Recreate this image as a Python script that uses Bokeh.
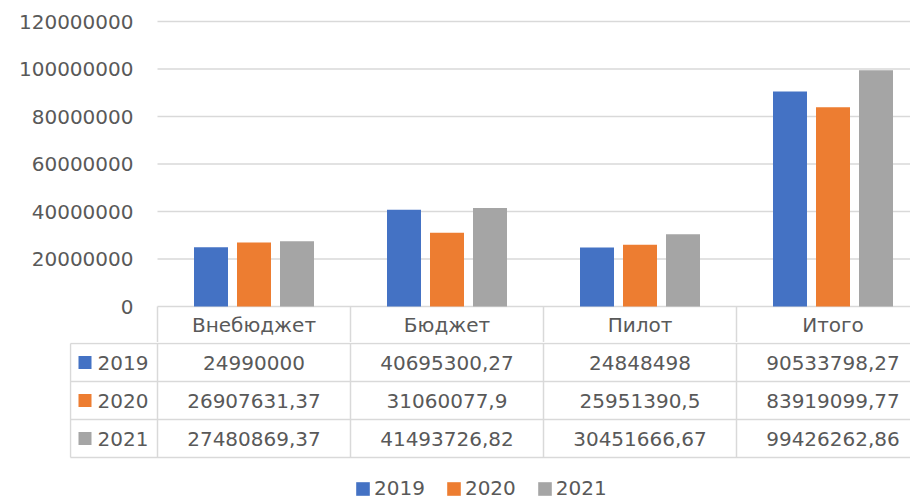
from bokeh.plotting import figure
from bokeh.models import (Range1d, FixedTicker, NumeralTickFormatter, ColumnDataSource,
                          Legend, LegendItem)
from bokeh.layouts import column
from bokeh.embed import file_html
from bokeh.resources import INLINE
from bokeh.transform import dodge
from bokeh.core.properties import value

# ---------------- data ----------------
categories = ["Внебюджет", "Бюджет", "Пилот", "Итого"]
years = ["2019", "2020", "2021"]
values_2019 = [24990000, 40695300.27, 24848498, 90533798.27]
values_2020 = [26907631.37, 31060077.9, 25951390.5, 83919099.77]
values_2021 = [27480869.37, 41493726.82, 30451666.67, 99426262.86]
y_ticks = [0, 20000000, 40000000, 60000000, 80000000, 100000000, 120000000]
colors = ["#4472C4", "#ED7D31", "#A5A5A5"]
series = [values_2019, values_2020, values_2021]

# ---------------- style / layout ----------------
FONT = "DejaVu Sans"
FS = "20px"
TXT = "#595959"
GRID = "#d9d9d9"
PAGE_W = 910
PAGE_H = 502
COL = 193.0                 # px per category column
UNIT = 20e6 / 47.5          # data units per px (vertical)
FRAME_LEFT = 69             # frame left edge in px (table key column border)
CAT_LEFT = 157              # px where first category column starts
TOP_BORDER = 19
ZERO_PX = 287               # frame top -> zero line
HEADER_PX = 36              # header row height
ROW_PX = 38
BAR_W = 34 / COL
OFFS = [-43 / COL, 0.0, 43 / COL]
LABEL_RIGHT = 133           # right edge of y tick labels


def fmt(v):
    s = f"{v:.2f}".rstrip("0").rstrip(".")
    return s.replace(".", ",")


x0 = -(CAT_LEFT - FRAME_LEFT) / COL
x1 = x0 + (PAGE_W - FRAME_LEFT) / COL
top_h = TOP_BORDER + ZERO_PX + HEADER_PX

# ---------------- top figure: chart + header row ----------------
p = figure(width=PAGE_W, height=top_h,
           x_range=Range1d(x0, x1),
           y_range=Range1d(-HEADER_PX * UNIT, ZERO_PX * UNIT),
           x_axis_type=None, output_backend="svg", toolbar_location=None,
           min_border_left=FRAME_LEFT, min_border_right=0,
           min_border_top=TOP_BORDER, min_border_bottom=0)
p.outline_line_color = None
p.xgrid.visible = False
p.ygrid.visible = False
p.yaxis.ticker = FixedTicker(ticks=y_ticks)
p.yaxis.formatter = NumeralTickFormatter(format="0")
p.yaxis.axis_line_color = None
p.yaxis.major_tick_line_color = None
p.yaxis.minor_tick_line_color = None
p.yaxis.major_tick_out = 0
p.yaxis.major_tick_in = 0
p.yaxis.major_label_standoff = FRAME_LEFT - LABEL_RIGHT
p.yaxis.major_label_text_font = FONT
p.yaxis.major_label_text_font_size = FS
p.yaxis.major_label_text_color = TXT

# horizontal grid lines over the category area only
p.segment(x0=[0] * len(y_ticks), x1=[x1] * len(y_ticks), y0=y_ticks, y1=y_ticks,
          line_color=GRID, line_width=1.5)

xc = [i + 0.5 for i in range(len(categories))]
src = ColumnDataSource(dict(xc=xc, cat=categories,
                            y2019=values_2019, y2020=values_2020, y2021=values_2021))
bar_renderers = []
for yr, off, col in zip(years, OFFS, colors):
    r = p.vbar(x=dodge("xc", off, range=p.x_range), top="y" + yr, width=BAR_W,
               bottom=0, source=src, fill_color=col, line_color=None)
    bar_renderers.append(r)

# header row
vlines = list(range(len(categories)))
p.segment(x0=vlines, x1=vlines, y0=[0] * len(vlines),
          y1=[-HEADER_PX * UNIT] * len(vlines), line_color=GRID, line_width=1.5)
p.text(x="xc", y=value(-HEADER_PX / 2 * UNIT), text="cat", source=src,
       text_font=value(FONT), text_font_size=FS, text_color=TXT,
       text_align="center", text_baseline="middle")

# ---------------- bottom figure: table rows + legend ----------------
bot_h = PAGE_H - top_h
q = figure(width=PAGE_W, height=bot_h,
           x_range=Range1d(x0, x1), y_range=Range1d(bot_h, 0),
           x_axis_type=None, y_axis_type=None, output_backend="svg",
           toolbar_location=None, min_border_left=FRAME_LEFT, min_border_right=0,
           min_border_top=0, min_border_bottom=0)
q.outline_line_color = None
q.xgrid.visible = False
q.ygrid.visible = False

key_left = x0 + 1 / COL
row_lines = [1 + ROW_PX * k for k in range(len(years) + 1)]
q.segment(x0=[key_left] * len(row_lines), x1=[x1] * len(row_lines),
          y0=row_lines, y1=row_lines, line_color=GRID, line_width=1.5)
vx = [key_left] + vlines
q.segment(x0=vx, x1=vx, y0=[row_lines[0]] * len(vx), y1=[row_lines[-1]] * len(vx),
          line_color=GRID, line_width=1.5)

items = []
for r, (yr, col, vals) in enumerate(zip(years, colors, series)):
    yc = 1 + ROW_PX * r + ROW_PX / 2
    ks = ColumnDataSource(dict(x=[(84.5 - CAT_LEFT) / COL], y=[yc]))
    rr = q.rect(x="x", y="y", width=13, height=13, width_units="screen",
                height_units="screen", source=ks, fill_color=col, line_color=None)
    items.append(LegendItem(label=yr, renderers=[rr]))
    q.text(x=[(97 - CAT_LEFT) / COL], y=[yc], text=[yr], text_font=value(FONT),
           text_font_size=FS, text_color=TXT, text_align="left",
           text_baseline="middle")
    cs = ColumnDataSource(dict(x=xc, t=[fmt(v) for v in vals]))
    q.text(x="x", y=value(yc), text="t", source=cs, text_font=value(FONT),
           text_font_size=FS, text_color=TXT, text_align="center",
           text_baseline="middle")

legend = Legend(items=items, orientation="horizontal", location=(285, 2),
                glyph_width=17, glyph_height=17, label_standoff=3, spacing=20,
                padding=0, margin=0, label_text_font=FONT, label_text_font_size=FS,
                label_text_color=TXT, border_line_alpha=0, background_fill_alpha=0,
                label_height=20)
q.add_layout(legend)

layout = column(p, q, spacing=0)
open("out.html", "w").write(file_html(layout, INLINE))
